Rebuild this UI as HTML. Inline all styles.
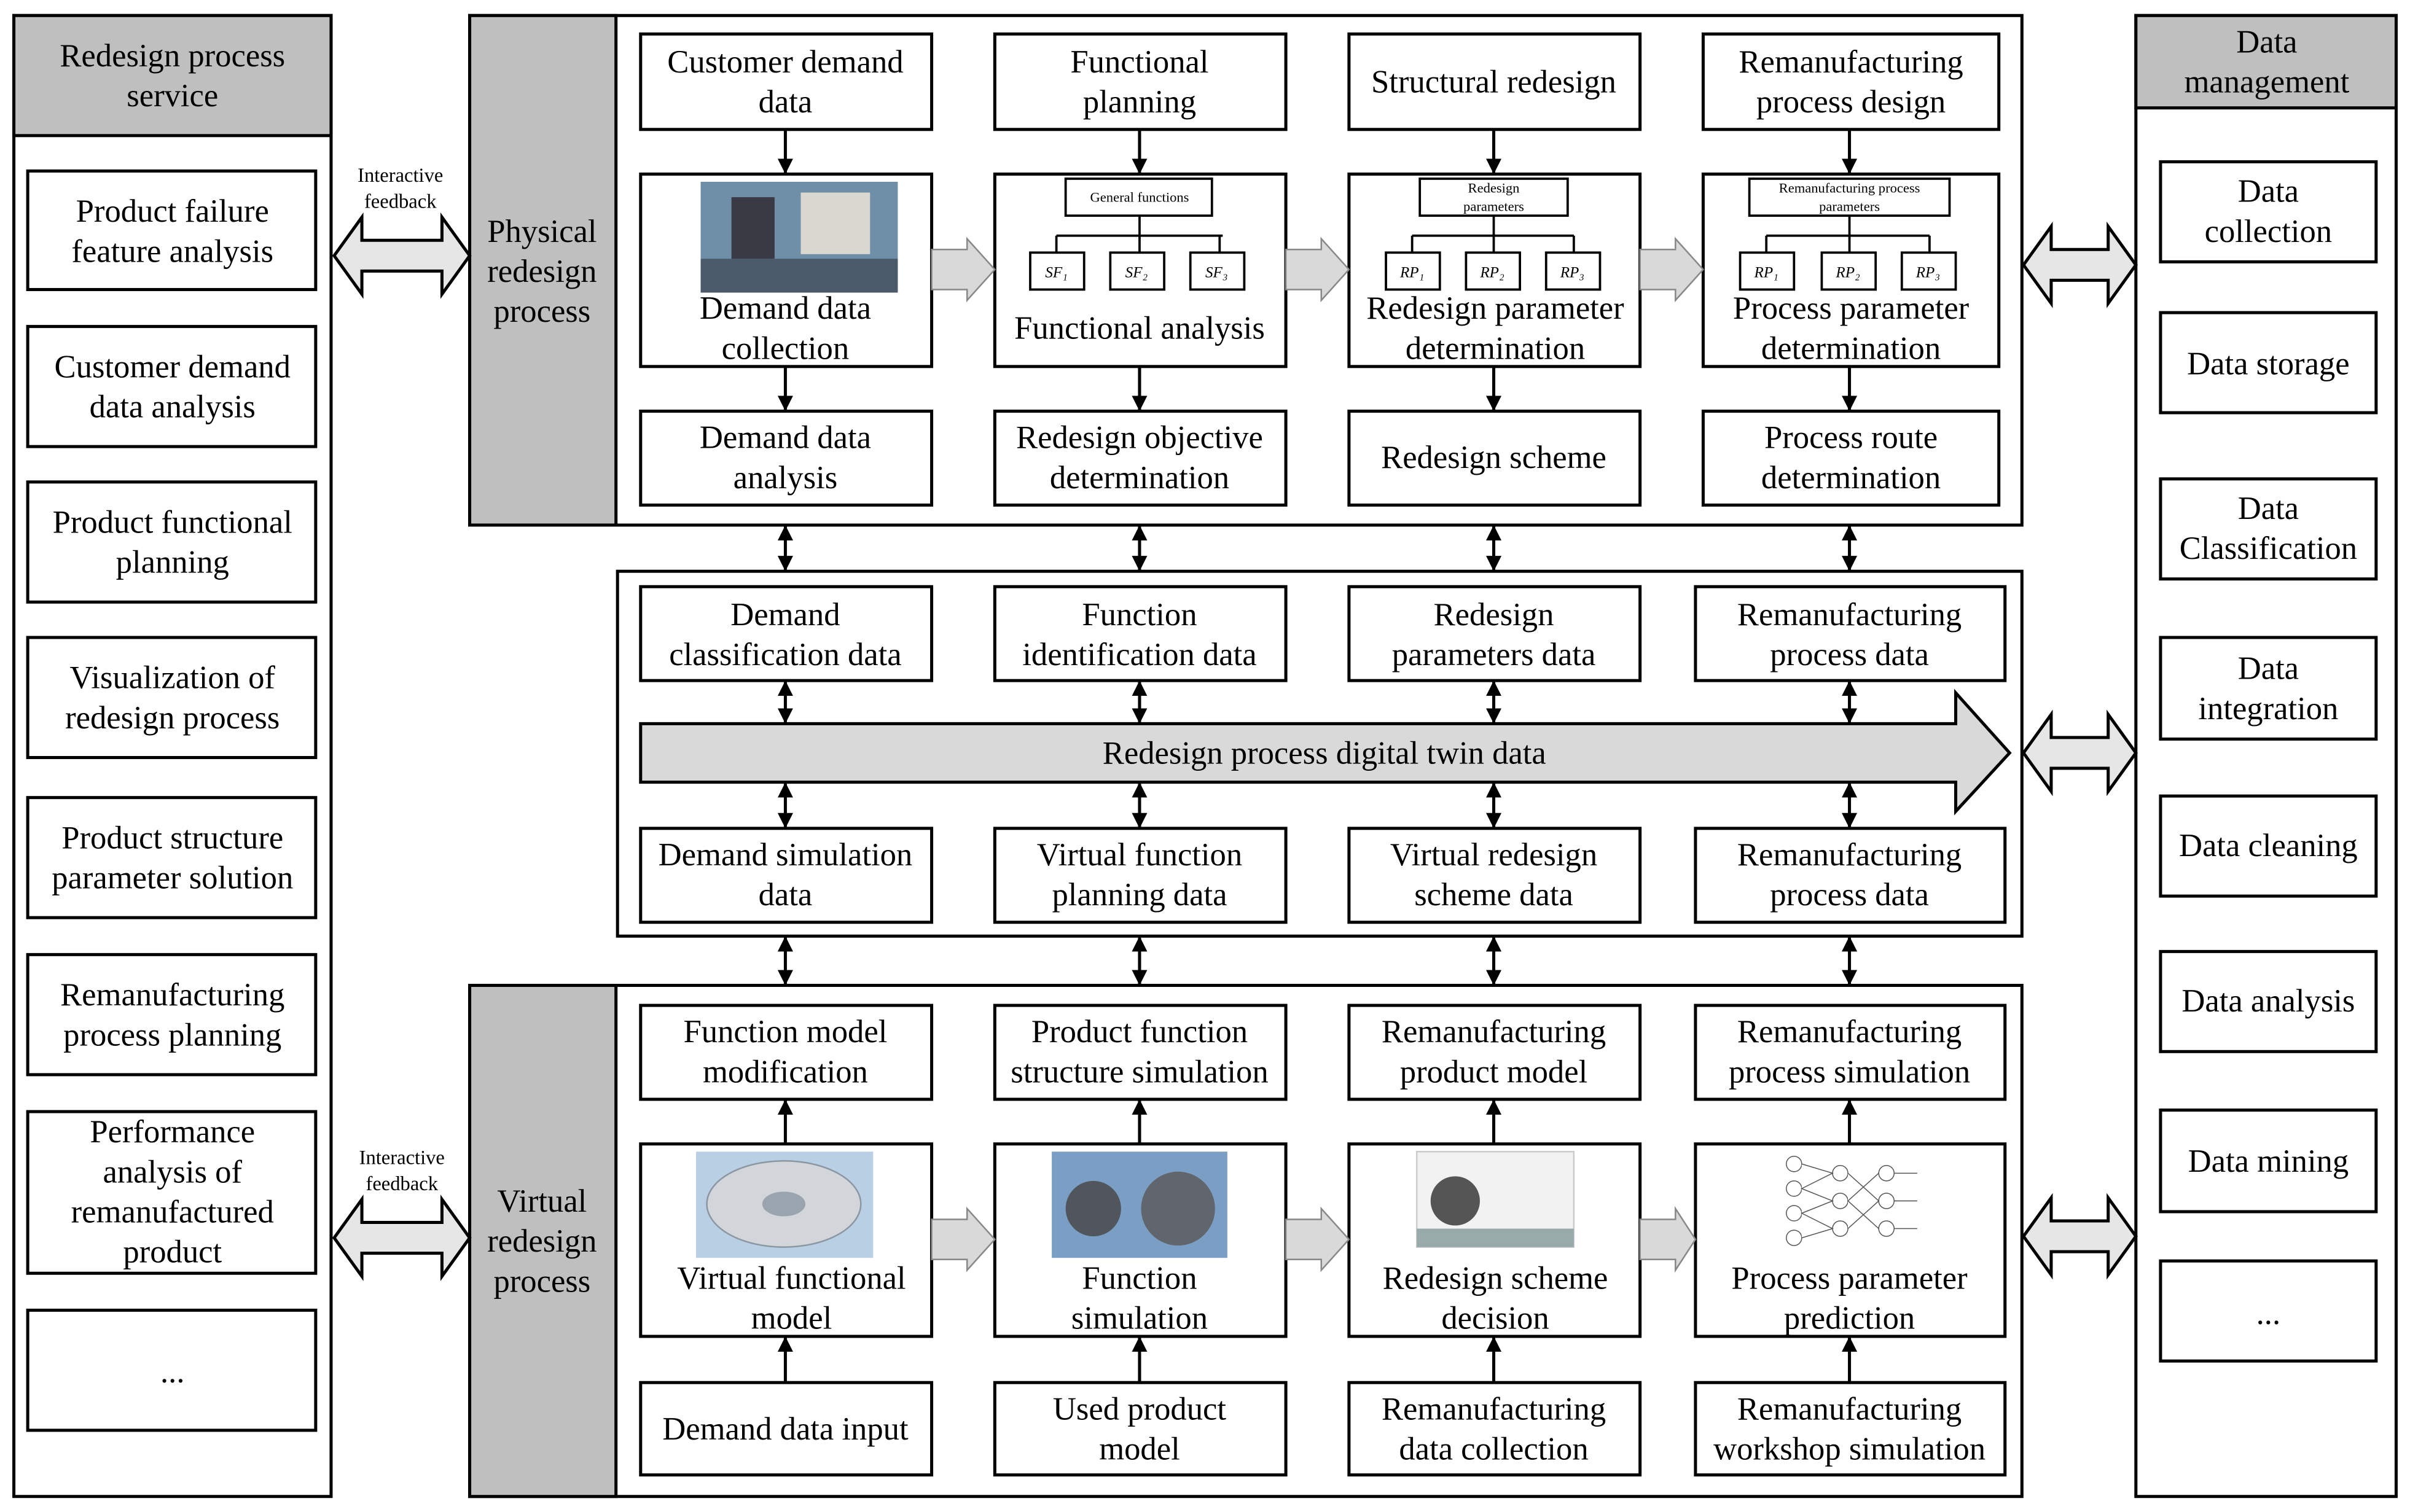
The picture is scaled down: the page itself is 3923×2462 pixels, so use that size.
<!DOCTYPE html>
<html><head><meta charset="utf-8"><style>html,body{margin:0;padding:0;background:#fff;}svg{display:block}</style></head>
<body>
<svg xmlns="http://www.w3.org/2000/svg" width="3923" height="2462" viewBox="0 0 1565 982" style="font-family:'Liberation Serif', serif" font-size="21" text-anchor="middle">
<defs>
<marker id="ah" viewBox="0 0 10 10" refX="9" refY="5" markerWidth="5" markerHeight="5" orient="auto-start-reverse"><path d="M0,0 L10,5 L0,10 z" fill="#000"/></marker>
</defs>
<g fill="none" stroke="#000" stroke-width="2">
<rect x="9" y="10" width="206" height="962"/>
<rect x="9" y="10" width="206" height="78" fill="#bfbfbf"/>
<rect x="18" y="111" width="187" height="77"/>
<rect x="18" y="212" width="187" height="78"/>
<rect x="18" y="313" width="187" height="78"/>
<rect x="18" y="414" width="187" height="78"/>
<rect x="18" y="518" width="187" height="78"/>
<rect x="18" y="620" width="187" height="78"/>
<rect x="18" y="722" width="187" height="105"/>
<rect x="18" y="851" width="187" height="78"/>
<rect x="1387" y="10" width="169" height="962"/>
<rect x="1387" y="10" width="169" height="60" fill="#bfbfbf"/>
<rect x="1403" y="105" width="140" height="65"/>
<rect x="1403" y="203" width="140" height="65"/>
<rect x="1403" y="311" width="140" height="65"/>
<rect x="1403" y="414" width="140" height="66"/>
<rect x="1403" y="517" width="140" height="65"/>
<rect x="1403" y="618" width="140" height="65"/>
<rect x="1403" y="721" width="140" height="66"/>
<rect x="1403" y="819" width="140" height="65"/>
<rect x="305" y="10" width="1008" height="331"/>
<rect x="305" y="10" width="95" height="331" fill="#bfbfbf"/>
<rect x="401" y="371" width="912" height="237"/>
<rect x="305" y="640" width="1008" height="332"/>
<rect x="305" y="640" width="95" height="332" fill="#bfbfbf"/>
<rect x="416" y="22" width="189" height="62"/><rect x="646" y="22" width="189" height="62"/><rect x="876" y="22" width="189" height="62"/><rect x="1106" y="22" width="192" height="62"/>
<rect x="416" y="113" width="189" height="125"/><rect x="646" y="113" width="189" height="125"/><rect x="876" y="113" width="189" height="125"/><rect x="1106" y="113" width="192" height="125"/>
<rect x="416" y="267" width="189" height="61"/><rect x="646" y="267" width="189" height="61"/><rect x="876" y="267" width="189" height="61"/><rect x="1106" y="267" width="192" height="61"/>
<rect x="416" y="381" width="189" height="61"/><rect x="646" y="381" width="189" height="61"/><rect x="876" y="381" width="189" height="61"/><rect x="1101" y="381" width="201" height="61"/>
<rect x="416" y="538" width="189" height="61"/><rect x="646" y="538" width="189" height="61"/><rect x="876" y="538" width="189" height="61"/><rect x="1101" y="538" width="201" height="61"/>
<rect x="416" y="653" width="189" height="61"/><rect x="646" y="653" width="189" height="61"/><rect x="876" y="653" width="189" height="61"/><rect x="1101" y="653" width="201" height="61"/>
<rect x="416" y="743" width="189" height="125"/><rect x="646" y="743" width="189" height="125"/><rect x="876" y="743" width="189" height="125"/><rect x="1101" y="743" width="201" height="125"/>
<rect x="416" y="898" width="189" height="60"/><rect x="646" y="898" width="189" height="60"/><rect x="876" y="898" width="189" height="60"/><rect x="1101" y="898" width="201" height="60"/>
</g>
<g fill="none" stroke="#000" stroke-width="1.5">
<rect x="692" y="116" width="95" height="24"/><path d="M740,140 V153 M686,153 H794 M686,153 V164 M740,153 V164 M792,153 V164"/>
<rect x="669" y="164" width="35" height="24"/><rect x="721" y="164" width="35" height="24"/><rect x="773" y="164" width="35" height="24"/>
<rect x="922" y="116" width="96" height="24"/><path d="M970,140 V153 M917,153 H1022 M917,153 V164 M970,153 V164 M1022,153 V164"/>
<rect x="900" y="164" width="35" height="24"/><rect x="952" y="164" width="35" height="24"/><rect x="1004" y="164" width="35" height="24"/>
<rect x="1136" y="116" width="130" height="24"/><path d="M1201,140 V153 M1147,153 H1253 M1147,153 V164 M1201,153 V164 M1253,153 V164"/>
<rect x="1130" y="164" width="35" height="24"/><rect x="1183" y="164" width="35" height="24"/><rect x="1235" y="164" width="35" height="24"/>
</g>
<g font-size="9">
<text x="740" y="131">General functions</text>
<text x="970" y="125">Redesign</text><text x="970" y="137">parameters</text>
<text x="1201" y="125">Remanufacturing process</text><text x="1201" y="137">parameters</text>
</g>
<g font-size="10" font-style="italic">
<text x="686" y="180">SF₁</text><text x="738" y="180">SF₂</text><text x="790" y="180">SF₃</text>
<text x="917" y="180">RP₁</text><text x="969" y="180">RP₂</text><text x="1021" y="180">RP₃</text>
<text x="1147" y="180">RP₁</text><text x="1200" y="180">RP₂</text><text x="1252" y="180">RP₃</text>
</g>
<rect x="455" y="118" width="128" height="72" fill="#6f8fa8"/>
<rect x="520" y="125" width="45" height="40" fill="#d8d8d0"/><rect x="475" y="128" width="28" height="40" fill="#3a3a44"/><rect x="455" y="168" width="128" height="22" fill="#4a5a6a"/>
<rect x="452" y="748" width="115" height="69" fill="#b9cfe3"/><ellipse cx="509" cy="782" rx="50" ry="28" fill="#d2d6da" stroke="#8a96a2"/><ellipse cx="509" cy="782" rx="14" ry="8" fill="#9aa4ae"/>
<rect x="683" y="748" width="114" height="69" fill="#7a9ec4"/><circle cx="710" cy="785" r="18" fill="#50565c"/><circle cx="765" cy="785" r="24" fill="#60666c"/>
<rect x="920" y="748" width="102" height="62" fill="#f2f2f2" stroke="#ccc"/><circle cx="945" cy="780" r="16" fill="#555"/><rect x="920" y="798" width="102" height="12" fill="#9aa"/>
<g stroke="#555" stroke-width="0.6" fill="#fff">
<circle cx="1165" cy="756" r="5"/><circle cx="1165" cy="772" r="5"/><circle cx="1165" cy="788" r="5"/><circle cx="1165" cy="804" r="5"/>
<circle cx="1195" cy="762" r="5"/><circle cx="1195" cy="780" r="5"/><circle cx="1195" cy="798" r="5"/>
<circle cx="1225" cy="762" r="5"/><circle cx="1225" cy="780" r="5"/><circle cx="1225" cy="798" r="5"/>
<path d="M1170,756 L1190,762 L1170,772 L1190,780 L1170,788 L1190,798 L1170,804 M1200,762 L1220,780 L1200,798 M1200,780 L1220,762 M1200,780 L1220,798 M1230,762 L1245,762 M1230,780 L1245,780 M1230,798 L1245,798"/>
</g>
<g fill="#d9d9d9" stroke="#888" stroke-width="1">
<polygon points="605,162 628,162 628,155 646,175 628,195 628,188 605,188"/>
<polygon points="835,162 858,162 858,155 876,175 858,195 858,188 835,188"/>
<polygon points="1065,162 1088,162 1088,155 1106,175 1088,195 1088,188 1065,188"/>
<polygon points="605,792 628,792 628,785 646,805 628,825 628,818 605,818"/>
<polygon points="835,792 858,792 858,785 876,805 858,825 858,818 835,818"/>
<polygon points="1065,792 1088,792 1088,785 1101,805 1088,825 1088,818 1065,818"/>
</g>
<polygon points="416,470 1270,470 1270,450 1305,489 1270,527 1270,508 416,508" fill="#d9d9d9" stroke="#000" stroke-width="2"/>
<g fill="#e6e6e6" stroke="#000" stroke-width="2">
<polygon points="217,166 235,141 235,156 287,156 287,141 305,166 287,191 287,176 235,176 235,191"/>
<polygon points="217,804 235,779 235,794 287,794 287,779 305,804 287,829 287,814 235,814 235,829"/>
<polygon points="1314,172 1332,147 1332,162 1369,162 1369,147 1387,172 1369,197 1369,182 1332,182 1332,197"/>
<polygon points="1314,489 1332,464 1332,479 1369,479 1369,464 1387,489 1369,514 1369,499 1332,499 1332,514"/>
<polygon points="1314,803 1332,778 1332,793 1369,793 1369,778 1387,803 1369,828 1369,813 1332,813 1332,828"/>
</g>
<g stroke="#000" stroke-width="2" fill="none">
<line x1="510" y1="84" x2="510" y2="112" marker-end="url(#ah)"/><line x1="740" y1="84" x2="740" y2="112" marker-end="url(#ah)"/><line x1="970" y1="84" x2="970" y2="112" marker-end="url(#ah)"/><line x1="1201" y1="84" x2="1201" y2="112" marker-end="url(#ah)"/>
<line x1="510" y1="238" x2="510" y2="266" marker-end="url(#ah)"/><line x1="740" y1="238" x2="740" y2="266" marker-end="url(#ah)"/><line x1="970" y1="238" x2="970" y2="266" marker-end="url(#ah)"/><line x1="1201" y1="238" x2="1201" y2="266" marker-end="url(#ah)"/>
<g marker-start="url(#ah)" marker-end="url(#ah)">
<line x1="510" y1="342" x2="510" y2="370"/><line x1="740" y1="342" x2="740" y2="370"/><line x1="970" y1="342" x2="970" y2="370"/><line x1="1201" y1="342" x2="1201" y2="370"/>
<line x1="510" y1="443" x2="510" y2="469"/><line x1="740" y1="443" x2="740" y2="469"/><line x1="970" y1="443" x2="970" y2="469"/><line x1="1201" y1="443" x2="1201" y2="469"/>
<line x1="510" y1="509" x2="510" y2="537"/><line x1="740" y1="509" x2="740" y2="537"/><line x1="970" y1="509" x2="970" y2="537"/><line x1="1201" y1="509" x2="1201" y2="537"/>
<line x1="510" y1="609" x2="510" y2="639"/><line x1="740" y1="609" x2="740" y2="639"/><line x1="970" y1="609" x2="970" y2="639"/><line x1="1201" y1="609" x2="1201" y2="639"/>
</g>
<line x1="510" y1="743" x2="510" y2="715" marker-end="url(#ah)"/><line x1="740" y1="743" x2="740" y2="715" marker-end="url(#ah)"/><line x1="970" y1="743" x2="970" y2="715" marker-end="url(#ah)"/><line x1="1201" y1="743" x2="1201" y2="715" marker-end="url(#ah)"/>
<line x1="510" y1="898" x2="510" y2="869" marker-end="url(#ah)"/><line x1="740" y1="898" x2="740" y2="869" marker-end="url(#ah)"/><line x1="970" y1="898" x2="970" y2="869" marker-end="url(#ah)"/><line x1="1201" y1="898" x2="1201" y2="869" marker-end="url(#ah)"/>
</g>
<g fill="#000">
<text x="112" y="43">Redesign process</text><text x="112" y="69">service</text>
<text x="112" y="144">Product failure</text><text x="112" y="170">feature analysis</text>
<text x="112" y="245">Customer demand</text><text x="112" y="271">data analysis</text>
<text x="112" y="346">Product functional</text><text x="112" y="372">planning</text>
<text x="112" y="447">Visualization of</text><text x="112" y="473">redesign process</text>
<text x="112" y="551">Product structure</text><text x="112" y="577">parameter solution</text>
<text x="112" y="653">Remanufacturing</text><text x="112" y="679">process planning</text>
<text x="112" y="742">Performance</text><text x="112" y="768">analysis of</text><text x="112" y="794">remanufactured</text><text x="112" y="820">product</text>
<text x="112" y="898">...</text>
<text x="1472" y="34">Data</text><text x="1472" y="60">management</text>
<text x="1473" y="131">Data</text><text x="1473" y="157">collection</text>
<text x="1473" y="243">Data storage</text>
<text x="1473" y="337">Data</text><text x="1473" y="363">Classification</text>
<text x="1473" y="441">Data</text><text x="1473" y="467">integration</text>
<text x="1473" y="556">Data cleaning</text>
<text x="1473" y="657">Data analysis</text>
<text x="1473" y="761">Data mining</text>
<text x="1473" y="860">...</text>
<text x="352" y="157">Physical</text><text x="352" y="183">redesign</text><text x="352" y="209">process</text>
<text x="352" y="787">Virtual</text><text x="352" y="813">redesign</text><text x="352" y="839">process</text>
<g font-size="13"><text x="260" y="118">Interactive</text><text x="260" y="135">feedback</text><text x="261" y="756">Interactive</text><text x="261" y="773">feedback</text></g>
<text x="510" y="47">Customer demand</text><text x="510" y="73">data</text>
<text x="740" y="47">Functional</text><text x="740" y="73">planning</text>
<text x="970" y="60">Structural redesign</text>
<text x="1202" y="47">Remanufacturing</text><text x="1202" y="73">process design</text>
<text x="510" y="207">Demand data</text><text x="510" y="233">collection</text>
<text x="740" y="220">Functional analysis</text>
<text x="971" y="207">Redesign parameter</text><text x="971" y="233">determination</text>
<text x="1202" y="207">Process  parameter</text><text x="1202" y="233">determination</text>
<text x="510" y="291">Demand data</text><text x="510" y="317">analysis</text>
<text x="740" y="291">Redesign objective</text><text x="740" y="317">determination</text>
<text x="970" y="304">Redesign scheme</text>
<text x="1202" y="291">Process route</text><text x="1202" y="317">determination</text>
<text x="510" y="406">Demand</text><text x="510" y="432">classification data</text>
<text x="740" y="406">Function</text><text x="740" y="432">identification data</text>
<text x="970" y="406">Redesign</text><text x="970" y="432">parameters data</text>
<text x="1201" y="406">Remanufacturing</text><text x="1201" y="432">process data</text>
<text x="860" y="496">Redesign process digital twin data</text>
<text x="510" y="562">Demand simulation</text><text x="510" y="588">data</text>
<text x="740" y="562">Virtual function</text><text x="740" y="588">planning data</text>
<text x="970" y="562">Virtual redesign</text><text x="970" y="588">scheme data</text>
<text x="1201" y="562">Remanufacturing</text><text x="1201" y="588">process data</text>
<text x="510" y="677">Function model</text><text x="510" y="703">modification</text>
<text x="740" y="677">Product function</text><text x="740" y="703">structure simulation</text>
<text x="970" y="677">Remanufacturing</text><text x="970" y="703">product model</text>
<text x="1201" y="677">Remanufacturing</text><text x="1201" y="703">process simulation</text>
<text x="514" y="837">Virtual functional</text><text x="514" y="863">model</text>
<text x="740" y="837">Function</text><text x="740" y="863">simulation</text>
<text x="971" y="837">Redesign scheme</text><text x="971" y="863">decision</text>
<text x="1201" y="837">Process  parameter</text><text x="1201" y="863">prediction</text>
<text x="510" y="935">Demand data input</text>
<text x="740" y="922">Used product</text><text x="740" y="948">model</text>
<text x="970" y="922">Remanufacturing</text><text x="970" y="948">data collection</text>
<text x="1201" y="922">Remanufacturing</text><text x="1201" y="948">workshop simulation</text>
</g>
</svg>
</body></html>
